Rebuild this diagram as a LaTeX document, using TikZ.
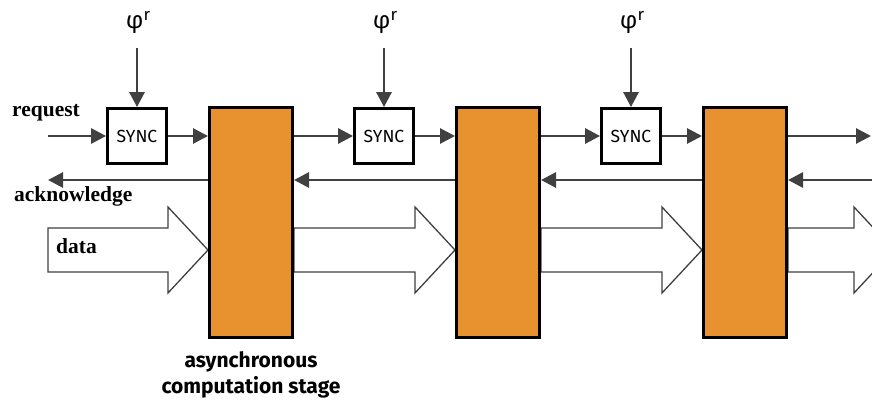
\documentclass[tikz,border=0pt]{standalone}
\usepackage{fontspec}
\setmainfont{Liberation Serif}
\newfontfamily\sansf{Fira Sans}
\usetikzlibrary{arrows.meta,calc}
\definecolor{stagefill}{HTML}{E8912F}
\definecolor{wire}{HTML}{404040}
\begin{document}
\begin{tikzpicture}[x=1pt,y=-1pt,
  stagebox/.style={draw=black,line width=3pt,fill=stagefill,minimum width=83pt,minimum height=230pt,inner sep=0pt},
  syncbox/.style={draw=black,line width=2.8pt,fill=white,minimum width=59pt,minimum height=55pt,inner sep=0pt,font=\sansf\fontsize{17.5}{17.5}\selectfont},
  wirearrow/.style={draw=wire,line width=2.8pt,-{Triangle[length=15pt,width=15pt]}},
  busarrow/.style={draw=wire,line width=1.3pt,fill=white,line join=miter},
  sigtext/.style={inner sep=0pt,font=\bfseries\fontsize{21.5}{22}\selectfont},
  phitext/.style={inner sep=0pt,font=\sansf\fontsize{24}{24}\selectfont}]
\useasboundingbox (0,0) rectangle (872,401);
\clip (0,0) rectangle (872,401);
\coordinate (ackrow) at (0,180);
\coordinate (reqrow) at (0,136);

% data buses (drawn first so the stage boxes sit on top)
\foreach \t/\b/\p in {48/168/208, 294/415/455, 541/662/702, 788/854/894}{
  \draw[busarrow] (\t,228) -- (\b,228) -- (\b,207) -- (\p,250) -- (\b,293) -- (\b,272) -- (\t,272) -- cycle;
}

% stages, synchronisers and clock inputs
\foreach \i/\sx/\bx in {1/137/251, 2/384/498, 3/631/745}{
  \node[stagebox] (stage\i) at (\bx,222.5) {};
  \node[syncbox] (sync\i) at (\sx,136) {SYNC};
  \node[phitext] (phi\i) at (\sx+1,22) {φ\raisebox{8pt}{\fontsize{17}{17}\selectfont r}};
  \coordinate (clk\i) at (\sx,48);
  \draw[wirearrow] (clk\i) -- (sync\i.north);
  \draw[wirearrow] (sync\i.east) -- (stage\i.west |- reqrow);
}

% request path between stages
\coordinate (reqin) at (48,136);
\coordinate (reqout) at (871,136);
\draw[wirearrow] (reqin) -- (sync1.west);
\draw[wirearrow] (stage1.east |- reqrow) -- (sync2.west);
\draw[wirearrow] (stage2.east |- reqrow) -- (sync3.west);
\draw[wirearrow] (stage3.east |- reqrow) -- (reqout);

% acknowledge path
\coordinate (ackout) at (48,180);
\coordinate (ackin) at (875,180);
\draw[wirearrow] (stage1.west |- ackrow) -- (ackout);
\draw[wirearrow] (stage2.west |- ackrow) -- (stage1.east |- ackrow);
\draw[wirearrow] (stage3.west |- ackrow) -- (stage2.east |- ackrow);
\draw[wirearrow] (ackin) -- (stage3.east |- ackrow);

% labels
\node[sigtext,anchor=west] (reqlabel) at (12,113) {request};
\node[sigtext,anchor=west] (acklabel) at (14,196) {acknowledge};
\node[sigtext,anchor=west] (datalabel) at (56,246) {data};
\node[inner sep=0pt,align=center,font=\sansf\bfseries\fontsize{21}{26}\selectfont] (stagelabel) at (251,375) {asynchronous\\computation stage};
\end{tikzpicture}
\end{document}
